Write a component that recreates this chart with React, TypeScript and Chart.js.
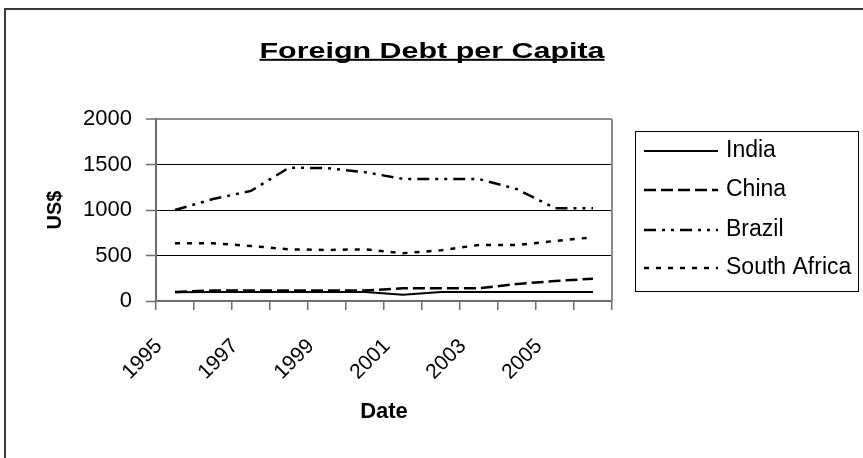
import React, { useEffect, useRef } from 'react';
import { Chart, registerables } from 'chart.js';

Chart.register(...registerables);

const years = ['1995', '1996', '1997', '1998', '1999', '2000', '2001', '2002', '2003', '2004', '2005', '2006'];
const india = [95, 100, 100, 100, 100, 100, 70, 100, 100, 100, 100, 100];
const china = [100, 115, 115, 115, 115, 115, 140, 140, 140, 187, 220, 245];
const brazil = [1000, 1120, 1210, 1465, 1460, 1415, 1342, 1342, 1340, 1229, 1020, 1020];
const southAfrica = [635, 635, 605, 568, 561, 568, 525, 557, 616, 616, 660, 700];
const seriesNames = ['India', 'China', 'Brazil', 'South Africa'];
const chartTitle = 'Foreign Debt per Capita';
const xTitle = 'Date';
const yTitle = 'US$';
const yMin = 0;
const yMax = 2000;
const yStep = 500;

const FONT = "'Liberation Sans', Arial, sans-serif";

const decorPlugin = {
  id: 'decor',
  afterDraw(chart: any) {
    const ctx = chart.ctx as CanvasRenderingContext2D;
    const area = chart.chartArea;
    ctx.save();
    // outer frame
    ctx.strokeStyle = '#3a3a3a';
    ctx.lineWidth = 2;
    ctx.strokeRect(5, 9, 900, 500);
    // plot area right border
    ctx.strokeStyle = '#8c8c8c';
    ctx.lineWidth = 2;
    ctx.beginPath();
    ctx.moveTo(area.right, area.top);
    ctx.lineTo(area.right, area.bottom);
    ctx.stroke();

    // title
    ctx.fillStyle = '#000';
    ctx.font = `bold 22px ${FONT}`;
    const w = ctx.measureText(chartTitle).width;
    const targetW = 345;
    const cx = 432;
    ctx.save();
    ctx.translate(cx, 57.5);
    ctx.scale(targetW / w, 1);
    ctx.textAlign = 'center';
    ctx.textBaseline = 'alphabetic';
    ctx.fillText(chartTitle, 0, 0);
    ctx.restore();
    ctx.fillRect(cx - targetW / 2, 58.8, targetW, 2);

    // legend
    const lx = 635.5, ly = 131.5, lw = 223, lh = 160;
    ctx.strokeStyle = '#000';
    ctx.lineWidth = 1;
    ctx.strokeRect(lx, ly, lw, lh);
    const rows = [151, 190, 230, 268];
    chart.data.datasets.forEach((ds: any, i: number) => {
      const y = rows[i];
      ctx.save();
      ctx.strokeStyle = '#000';
      ctx.lineWidth = ds.borderWidth;
      ctx.setLineDash(ds.borderDash || []);
      ctx.beginPath();
      ctx.moveTo(644, y);
      ctx.lineTo(718, y);
      ctx.stroke();
      ctx.restore();
      ctx.font = `23px ${FONT}`;
      ctx.textAlign = 'left';
      ctx.textBaseline = 'middle';
      ctx.fillStyle = '#000';
      ctx.fillText(ds.label, 726, y);
    });
    ctx.restore();
  },
};

export default function App() {
  const ref = useRef<HTMLCanvasElement>(null);
  useEffect(() => {
    if (!ref.current) return;
    const mk = (label: string, data: number[], dash: number[], width: number) => ({
      label,
      data,
      borderColor: '#000',
      backgroundColor: '#000',
      borderWidth: width,
      borderDash: dash,
      pointRadius: 0,
      tension: 0,
      fill: false,
    });
    const chart = new Chart(ref.current, {
      type: 'line',
      data: {
        labels: years,
        datasets: [
          mk(seriesNames[0], india, [], 2),
          mk(seriesNames[1], china, [12, 5], 2.5),
          mk(seriesNames[2], brazil, [12, 6, 3, 6, 3, 6], 2.5),
          mk(seriesNames[3], southAfrica, [5, 7], 2.5),
        ],
      },
      options: {
        responsive: false,
        animation: false,
        layout: { padding: { left: 40, top: 119, right: 251, bottom: 0 } },
        plugins: { legend: { display: false }, title: { display: false }, tooltip: { enabled: false } },
        scales: {
          x: {
            type: 'category',
            offset: true,
            afterFit: (s: any) => { s.height = 157; },
            grid: {
              display: true,
              drawOnChartArea: false,
              drawTicks: true,
              tickLength: 9,
              offset: true,
              color: '#6e6e6e',
              lineWidth: 1.5,
            },
            border: { display: true, color: '#6e6e6e', width: 2 },
            ticks: {
              autoSkip: false,
              maxRotation: 45,
              minRotation: 45,
              padding: 24,
              labelOffset: -16,
              color: '#000',
              font: { family: FONT, size: 21 },
              callback: (_v: any, i: number) => (i % 2 === 0 ? years[i] : ''),
            },
            title: {
              display: true,
              text: xTitle,
              color: '#000',
              font: { family: FONT, size: 22, weight: 'bold' },
              padding: { top: 0, bottom: 33 },
            },
          },
          y: {
            min: yMin,
            max: yMax,
            afterFit: (s: any) => { s.width = 116; },
            ticks: {
              stepSize: yStep,
              padding: 14,
              color: '#000',
              font: { family: FONT, size: 22 },
              callback: (v: any) => String(v),
            },
            grid: {
              drawTicks: true,
              tickLength: 10,
              color: (c: any) => (c.tick && (c.tick.value === yMax || c.tick.value === yMin) ? '#8c8c8c' : '#000'),
              lineWidth: (c: any) => (c.tick && c.tick.value === yMax ? 2 : 1),
              tickColor: '#6e6e6e',
              tickWidth: 1.5,
            },
            border: { display: true, color: '#6e6e6e', width: 2 },
            title: {
              display: true,
              text: yTitle,
              color: '#000',
              font: { family: FONT, size: 20, weight: 'bold' },
              padding: { top: 3, bottom: 0 },
            },
          },
        },
      },
      plugins: [decorPlugin],
    } as any);
    return () => chart.destroy();
  }, []);
  return (
    <div style={{ position: 'absolute', left: 0, top: 0, width: 863, height: 458, background: '#fff' }}>
      <canvas ref={ref} width={863} height={458} style={{ display: 'block' }} />
    </div>
  );
}
